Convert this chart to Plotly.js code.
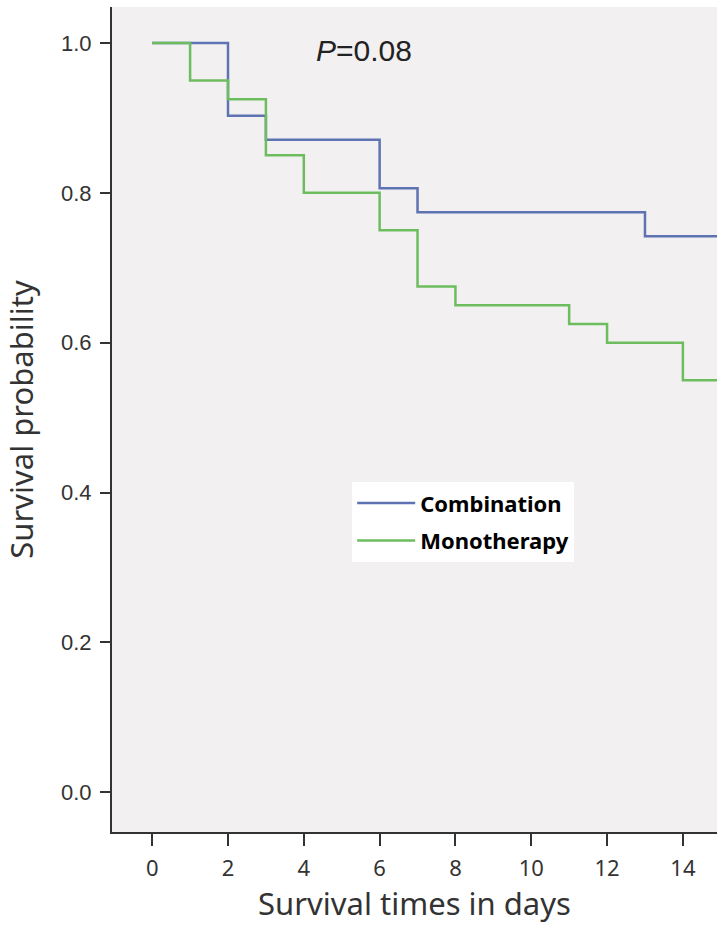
<!DOCTYPE html>
<html>
<head>
<meta charset="utf-8">
<script src="https://cdn.plot.ly/plotly-3.0.1.min.js"></script>
<style>
  html, body { margin: 0; padding: 0; background: #ffffff; }
  #plotArea { width: 725px; height: 935px; }
</style>
</head>
<body>
<div id="plotArea"></div>
<script>
// Kaplan-Meier step points (day, survival)
var comboDays = [0, 2, 3, 6, 7, 13, 14.9];
var comboSurv = [1.0, 0.903, 0.871, 0.806, 0.774, 0.742, 0.742];

var monoDays = [0, 1, 2, 3, 4, 6, 7, 8, 11, 12, 14, 14.9];
var monoSurv = [1.0, 0.95, 0.925, 0.85, 0.80, 0.75, 0.675, 0.65, 0.625, 0.60, 0.55, 0.55];

var xTicks = [0, 2, 4, 6, 8, 10, 12, 14];
var yTicks = [0.0, 0.2, 0.4, 0.6, 0.8, 1.0];
var yTickText = ["0.0", "0.2", "0.4", "0.6", "0.8", "1.0"];

var trace1 = {
    x: comboDays,
    y: comboSurv,
    name: "Combination",
    legendgroup: "a",
    type: "scatter",
    mode: "lines",
    line: {shape: "hv", color: "#5f73b3", width: 2.5}
};

var trace2 = {
    x: monoDays,
    y: monoSurv,
    name: "Monotherapy",
    legendgroup: "b",
    type: "scatter",
    mode: "lines",
    line: {shape: "hv", color: "#6dbd5f", width: 2.5}
};

var layout = {
    width: 725,
    height: 935,
    margin: {l: 112, r: 8, t: 7, b: 103},
    paper_bgcolor: "#ffffff",
    plot_bgcolor: "#f2f0f1",
    showlegend: true,
    legend: {
        x: 0.397, y: 0.424, xanchor: "left", yanchor: "top",
        bgcolor: "#ffffff",
        font: {family: "Noto Sans, DejaVu Sans, sans-serif", size: 22, color: "#000000", weight: "bold"},
        traceorder: "grouped",
        tracegroupgap: 6,
        itemwidth: 58
    },
    xaxis: {
        range: [-1.06, 14.9],
        tickvals: xTicks,
        ticktext: xTicks.map(String),
        showgrid: false,
        zeroline: false,
        showline: true,
        linecolor: "#333333",
        linewidth: 2,
        ticks: "outside",
        ticklen: 12,
        tickwidth: 2,
        tickcolor: "#333333",
        ticklabelstandoff: 4,
        tickfont: {family: "Noto Sans, DejaVu Sans, sans-serif", size: 22, color: "#333333"},
        title: {
            text: "Survival times in days",
            font: {family: "Noto Sans, DejaVu Sans, sans-serif", size: 31, color: "#333333"},
            standoff: 10
        }
    },
    yaxis: {
        range: [-0.053, 1.048],
        tickvals: yTicks,
        ticktext: yTickText,
        showgrid: false,
        zeroline: false,
        showline: true,
        linecolor: "#333333",
        linewidth: 2,
        ticks: "outside",
        ticklen: 10,
        tickwidth: 2,
        tickcolor: "#333333",
        ticklabelstandoff: 4,
        tickfont: {family: "Liberation Sans, Arial, sans-serif", size: 22, color: "#333333"},
        title: {
            text: "Survival probability",
            font: {family: "Noto Sans, DejaVu Sans, sans-serif", size: 31, color: "#333333"},
            standoff: 20
        }
    },
    annotations: [{
        xref: "x", yref: "y",
        x: 5.6, y: 0.99,
        text: "<i>P</i>=0.08",
        showarrow: false,
        font: {family: "Liberation Sans, Arial, sans-serif", size: 30, color: "#222222"}
    }]
};

Plotly.newPlot("plotArea", [trace1, trace2], layout, {displayModeBar: false});
</script>
</body>
</html>
